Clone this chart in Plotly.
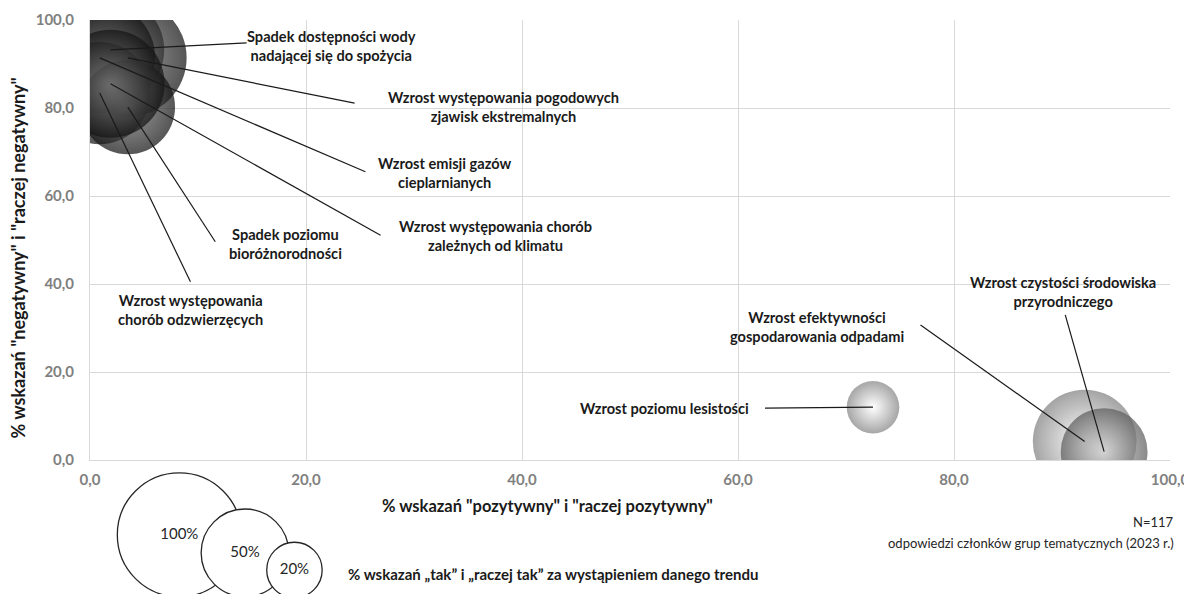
import plotly.graph_objects as go

# ---- data ----
trend_labels = [
    "Spadek dostępności wody<br>nadającej się do spożycia",
    "Wzrost występowania pogodowych<br>zjawisk ekstremalnych",
    "Wzrost emisji gazów<br>cieplarnianych",
    "Wzrost występowania chorób<br>zależnych od klimatu",
    "Spadek poziomu<br>bioróżnorodności",
    "Wzrost występowania<br>chorób odzwierzęcych",
    "Wzrost czystości środowiska<br>przyrodniczego",
    "Wzrost efektywności<br>gospodarowania odpadami",
    "Wzrost poziomu lesistości",
]
pct_positive = [1.9, 3.5, 0.9, 1.9, 3.5, 0.9, 93.9, 92.1, 72.5]
pct_negative = [93.2, 91.4, 91.4, 85.5, 80.2, 83.4, 1.9, 4.2, 12.0]
pct_yes = [75, 90, 80, 76, 58, 68, 49, 70, 18]

legend_values = [100, 50, 20]
legend_texts = ["100%", "50%", "20%"]

# ---- layout helpers (positions / styles) ----
label_pos = [(22.4, 94.1), (38.3, 80.2), (32.9, 65.2), (37.5, 50.9), (18.1, 49.1),
             (9.3, 34.1), (90.1, 38.2), (67.3, 30.2), (53.2, 11.8)]
leader_end = [(14.5, 94.8), (24.5, 81.1), (25.5, 65.5), (26.9, 51.1), (11.6, 49.6),
              (9.3, 40.5), (90.3, 33.0), (76.9, 30.7), (62.5, 11.8)]
# radial gradient: gradient.color = centre, marker.color = rim
rim_cols = ["#141414"] * 6 + ["#5c5c5c", "#9c9c9c", "#a6a6a6"]
centre_cols = ["#7a7a7a"] * 6 + ["#d0d0d0", "#ffffff", "#ffffff"]
opac = [0.72] * 6 + [0.72, 0.92, 1.0]
legend_pos = [(8.27, -17.0), (14.35, -21.1), (18.93, -25.0)]

MAX_D = 124  # px diameter for 100%
sizeref = 2 * 100 / (MAX_D ** 2)
FONT = "Lato"

# geometry (page has an 8px body margin): figure 1184x586,
# plot area 82..1162 px horizontally, 12..452 px vertically in figure coords
W, H = 1184, 586
L, R, TOP, BOT = 82, 22, 12, 134
main_bottom = BOT / (H - TOP)
PX_PER_Y = 440 / 100

fig = go.Figure()

order = [0, 1, 2, 5, 4, 3, 8, 7, 6]
fig.add_trace(go.Scatter(
    x=[pct_positive[i] for i in order],
    y=[pct_negative[i] for i in order],
    mode="markers",
    marker=dict(
        size=[pct_yes[i] for i in order],
        sizemode="area",
        sizeref=sizeref,
        color=[rim_cols[i] for i in order],
        opacity=[opac[i] for i in order],
        gradient=dict(type="radial", color=[centre_cols[i] for i in order]),
        line=dict(width=0),
    ),
    cliponaxis=True,
    hoverinfo="skip",
    showlegend=False,
))

# size legend circles on helper axes below the plot
fig.add_trace(go.Scatter(
    x=[p[0] for p in legend_pos],
    y=[p[1] for p in legend_pos],
    xaxis="x2", yaxis="y2",
    mode="markers+text",
    text=legend_texts,
    textposition="middle center",
    textfont=dict(family=FONT, size=15, color="#262626"),
    marker=dict(size=legend_values, sizemode="area", sizeref=sizeref,
                color="white", opacity=1, line=dict(color="#262626", width=1.3)),
    cliponaxis=False,
    hoverinfo="skip",
    showlegend=False,
))

# leader lines
for i in range(len(trend_labels)):
    fig.add_shape(type="line", xref="x", yref="y",
                  x0=pct_positive[i], y0=pct_negative[i],
                  x1=leader_end[i][0], y1=leader_end[i][1],
                  line=dict(color="#1a1a1a", width=1.2), layer="above")

# labels
for i, t in enumerate(trend_labels):
    fig.add_annotation(x=label_pos[i][0], y=label_pos[i][1], xref="x", yref="y",
                       text=t, showarrow=False, align="center",
                       font=dict(family=FONT, size=14.6, color="#1a1a1a", weight="bold"))

# axis titles & notes (relative to main plot area)
def note(x, y, text, size, bold=True, xanchor="center", angle=0):
    fig.add_annotation(x=x, y=y, xref="x domain", yref="y domain", text=text,
                       showarrow=False, xanchor=xanchor, textangle=angle,
                       font=dict(family=FONT, size=size, color="#1a1a1a" if bold else "#262626",
                                 weight="bold" if bold else "normal"))

note(0.424, -0.132, '% wskazań "pozytywny" i "raczej pozytywny"', 16.5)
note(-0.0667, 0.46, '% wskazań "negatywny" i "raczej negatywny"', 18, angle=-90)
note(0.429, -0.284, "% wskazań „tak” i „raczej tak” za wystąpieniem danego trendu", 15)
note(1.0056, -0.164, "N=117", 13, bold=False, xanchor="right")
note(1.0056, -0.212, "odpowiedzi członków grup tematycznych (2023 r.)", 13, bold=False, xanchor="right")

axis_common = dict(
    range=[0, 100], dtick=20, tick0=0, tickformat=".1f",
    showgrid=True, gridcolor="#d9d9d9", gridwidth=1,
    showline=True, linecolor="#d9d9d9", linewidth=1,
    zeroline=False, ticks="", automargin=False,
    tickfont=dict(family=FONT, size=15, color="#808080", weight="bold"),
)
fig.update_layout(
    width=W, height=H,
    margin=dict(l=L, r=R, t=TOP, b=0, autoexpand=False),
    paper_bgcolor="white", plot_bgcolor="white",
    separators=", ",
    font=dict(family=FONT),
    xaxis=dict(**axis_common, ticklabelstandoff=6, domain=[0, 1], anchor="y"),
    yaxis=dict(**axis_common, ticklabelstandoff=12, domain=[main_bottom, 1], anchor="x"),
    xaxis2=dict(range=[0, 100], domain=[0, 1], anchor="y2", visible=False,
                fixedrange=True, automargin=False),
    yaxis2=dict(range=[-BOT / PX_PER_Y, 0],
                domain=[0, main_bottom], anchor="x2", visible=False,
                fixedrange=True, automargin=False),
)

fig.write_html("out.html")
